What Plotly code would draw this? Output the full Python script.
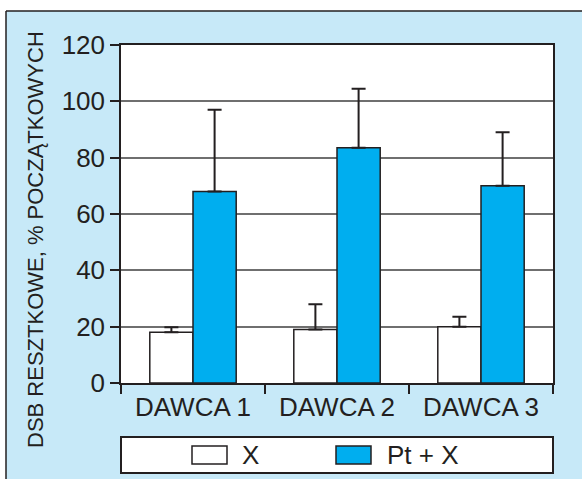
import plotly.graph_objects as go

# Residual DSB per donor, % of initial value
categories = ["DAWCA 1", "DAWCA 2", "DAWCA 3"]
x_only = [18, 19, 20]
x_only_err = [1.8, 9, 3.5]
pt_x = [68, 83.5, 70]
pt_x_err = [29, 21, 19]
series_names = ["X", "Pt + X"]
y_ticks = [0, 20, 40, 60, 80, 100, 120]

INK = "#231f20"
CYAN = "#00aeef"
PANEL = "#c7e9f8"
FONT = "Liberation Sans, Arial, sans-serif"

W, H = 582, 479
L, R, T, B = 121, 29, 45, 96
PW, PH = W - L - R, H - T - B


def px(xp):
    return (xp - L) / PW


def py(yp):
    return (H - B - yp) / PH


fig = go.Figure()
fig.add_trace(go.Bar(
    x=categories, y=x_only, name=series_names[0],
    marker=dict(color="white", line=dict(color=INK, width=1.5)),
    error_y=dict(type="data", array=x_only_err, arrayminus=[0] * 3,
                 symmetric=False, color=INK, thickness=2, width=7),
    showlegend=False,
))
fig.add_trace(go.Bar(
    x=categories, y=pt_x, name=series_names[1],
    marker=dict(color=CYAN, line=dict(color=INK, width=1.5)),
    error_y=dict(type="data", array=pt_x_err, arrayminus=[0] * 3,
                 symmetric=False, color=INK, thickness=2, width=7),
    showlegend=False,
))

shapes = []
# white margin outside the framed panel, and the panel border
shapes.append(dict(type="rect", xref="paper", yref="paper", layer="below",
                   x0=px(-5), x1=px(W + 5), y0=py(11), y1=py(-5),
                   fillcolor="white", line=dict(width=0)))
shapes.append(dict(type="rect", xref="paper", yref="paper", layer="below",
                   x0=px(-5), x1=px(6), y0=py(-5), y1=py(H + 5),
                   fillcolor="white", line=dict(width=0)))
shapes.append(dict(type="line", xref="paper", yref="paper",
                   x0=px(6), x1=px(W + 5), y0=py(11), y1=py(11),
                   line=dict(color=INK, width=1.5)))
shapes.append(dict(type="line", xref="paper", yref="paper",
                   x0=px(6), x1=px(6), y0=py(11), y1=py(H + 5),
                   line=dict(color=INK, width=1.5)))

# legend box with its swatches
shapes.append(dict(type="rect", xref="paper", yref="paper",
                   x0=px(121), x1=px(553), y0=py(437), y1=py(473),
                   fillcolor="white", line=dict(color=INK, width=2)))
shapes.append(dict(type="rect", xref="paper", yref="paper",
                   x0=px(192), x1=px(227), y0=py(446), y1=py(464),
                   fillcolor="white", line=dict(color=INK, width=1.5)))
shapes.append(dict(type="rect", xref="paper", yref="paper",
                   x0=px(336), x1=px(371), y0=py(446), y1=py(464),
                   fillcolor=CYAN, line=dict(color=INK, width=1.5)))

annotations = [
    dict(text=series_names[0], xref="paper", yref="paper", x=px(240), y=py(455),
         xanchor="left", yanchor="middle", showarrow=False,
         font=dict(family=FONT, size=26, color=INK)),
    dict(text=series_names[1], xref="paper", yref="paper", x=px(385), y=py(455),
         xanchor="left", yanchor="middle", showarrow=False,
         font=dict(family=FONT, size=26, color=INK)),
    dict(text="DSB RESZTKOWE, % POCZĄTKOWYCH", xref="paper", yref="paper",
         x=px(36), y=py(240), textangle=-90, xanchor="center", yanchor="middle",
         showarrow=False, font=dict(family=FONT, size=22, color=INK)),
]

fig.update_layout(
    width=W, height=H,
    margin=dict(l=L, r=R, t=T, b=B, pad=0),
    paper_bgcolor=PANEL, plot_bgcolor="white",
    barmode="group", bargap=0.40, bargroupgap=0,
    shapes=shapes, annotations=annotations,
    font=dict(family=FONT, color=INK),
    xaxis=dict(
        type="category", tickson="boundaries", ticks="outside", ticklen=9,
        tickwidth=1.5, tickcolor=INK, showline=True, linecolor=INK,
        linewidth=1.5, mirror=True, showgrid=False,
        tickfont=dict(family=FONT, size=26, color=INK),
    ),
    yaxis=dict(
        range=[0, 120], tickvals=y_ticks, ticks="outside", ticklen=9,
        tickwidth=1.5, tickcolor=INK, showline=True, linecolor=INK,
        linewidth=1.5, mirror=True, showgrid=True, gridcolor="#6f6f6f",
        gridwidth=1.5, zeroline=False,
        tickfont=dict(family=FONT, size=26, color=INK),
    ),
)

fig.write_html("out.html")
